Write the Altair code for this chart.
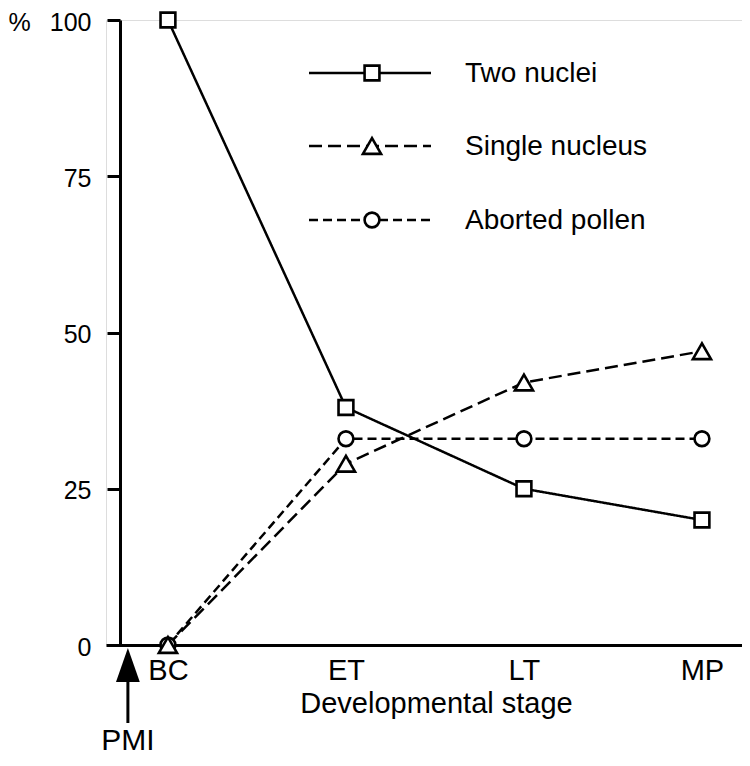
import altair as alt
import pandas as pd

# ---- data ----
stages = ["BC", "ET", "LT", "MP"]
stage_pos = [1, 2, 3, 4]
two_nuclei = [100, 38, 25, 20]
single_nucleus = [0, 29, 42, 47]
aborted_pollen = [0, 33, 33, 33]
series_names = ["Two nuclei", "Single nucleus", "Aborted pollen"]
y_ticks = [0, 25, 50, 75, 100]
pmi_label = ["PMI"]
pmi_pos = [0.775]

FONT = "Liberation Sans"
W, H = 636, 625

rows = []
for name, vals in zip(series_names, [two_nuclei, single_nucleus, aborted_pollen]):
    for p, v in zip(stage_pos, vals):
        rows.append({"series": name, "pos": p, "value": v})
df = pd.DataFrame(rows)
legend_df = pd.DataFrame({"series": series_names})
pmi_df = pd.DataFrame({"pos": pmi_pos, "label": pmi_label})

x_scale = alt.Scale(domain=[0.652, 4.225], nice=False, zero=False)
y_scale = alt.Scale(domain=[0, 100], nice=False)

label_expr = "[" + ",".join(f"'{s}'" for s in stages) + "][datum.value - 1]"

x_axis = alt.Axis(
    values=stage_pos, labelExpr=label_expr, ticks=False, tickSize=0,
    labelPadding=11, labelFontSize=29, labelFont=FONT, labelColor="black",
    labelFlush=False, labelOverlap=False,
    title="Developmental stage", titleX=330, titleY=67, titleAlign="center",
    titleBaseline="alphabetic", titleFontSize=29, titleFont=FONT,
    titleFontWeight="normal", titleColor="black",
    domainWidth=3, domainColor="black", grid=False,
)
y_axis = alt.Axis(
    values=y_ticks, offset=-14, tickSize=13, tickWidth=3, tickColor="black",
    domainWidth=3, domainColor="black", labelFontSize=25, labelFont=FONT,
    labelColor="black", labelPadding=16, labelOffset=2, format="d",
    title="%", titleAngle=0, titleX=-101, titleY=10, titleAlign="center",
    titleBaseline="alphabetic", titleFontSize=25, titleFont=FONT,
    titleFontWeight="normal", titleColor="black", grid=False,
)

styles = {
    "Two nuclei": dict(dash=[1, 0], shape="square", size=220),
    "Single nucleus": dict(dash=[13, 6], shape="triangle-up", size=330),
    "Aborted pollen": dict(dash=[9, 5], shape="circle", size=220),
}
legend_y = [53, 126, 200]
draw_order = ["Aborted pollen", "Single nucleus", "Two nuclei"]

X = alt.X("pos:Q", scale=x_scale, axis=x_axis)
Y = alt.Y("value:Q", scale=y_scale, axis=y_axis)

lines, points, legend = [], [], []
for name in draw_order:
    st = styles[name]
    base = alt.Chart(df).transform_filter(alt.datum.series == name)
    lines.append(
        base.mark_line(color="black", strokeWidth=2.5, strokeDash=st["dash"]).encode(x=X, y=Y)
    )
    points.append(
        base.mark_point(shape=st["shape"], size=st["size"], filled=True, fill="white",
                        stroke="black", strokeWidth=2.6, opacity=1).encode(x=X, y=Y)
    )
for i, name in enumerate(series_names):
    st = styles[name]
    lb = alt.Chart(legend_df).transform_filter(alt.datum.series == name)
    ly = legend_y[i]
    legend.append(
        lb.mark_rule(color="black", strokeWidth=2.5, strokeDash=st["dash"]).encode(
            x=alt.value(203), x2=alt.value(325), y=alt.value(ly))
    )
    legend.append(
        lb.mark_point(shape=st["shape"], size=st["size"], filled=True, fill="white",
                      stroke="black", strokeWidth=2.6, opacity=1).encode(
            x=alt.value(266), y=alt.value(ly))
    )
    legend.append(
        lb.mark_text(align="left", baseline="middle", fontSize=28, font=FONT,
                     color="black").encode(
            x=alt.value(359), y=alt.value(ly + 1), text="series:N")
    )

pmi_base = alt.Chart(pmi_df)
pmi_head = pmi_base.mark_point(shape="M0,-1L0.7,1L-0.7,1Z", size=1156, filled=True,
                               color="black", opacity=1, yOffset=20).encode(
    x=alt.X("pos:Q", scale=x_scale), y=alt.datum(0))
pmi_shaft = pmi_base.mark_rule(color="black", strokeWidth=3, yOffset=35, y2Offset=78).encode(
    x=alt.X("pos:Q", scale=x_scale), y=alt.datum(0), y2=alt.datum(0))
pmi_text = pmi_base.mark_text(fontSize=30, font=FONT, color="black", align="center",
                              baseline="alphabetic", yOffset=105).encode(
    x=alt.X("pos:Q", scale=x_scale), y=alt.datum(0), text="label:N")

chart = alt.layer(
    *lines, *points, *legend, pmi_head, pmi_shaft, pmi_text
).properties(
    width=W, height=H,
    autosize=alt.AutoSizeParams(type="none"),
    padding={"left": 98, "top": 12, "right": 0, "bottom": 113},
    background="white",
).configure_view(stroke=None).configure(font=FONT)

chart.save("out.html", embed_options={"renderer": "svg", "actions": False})
